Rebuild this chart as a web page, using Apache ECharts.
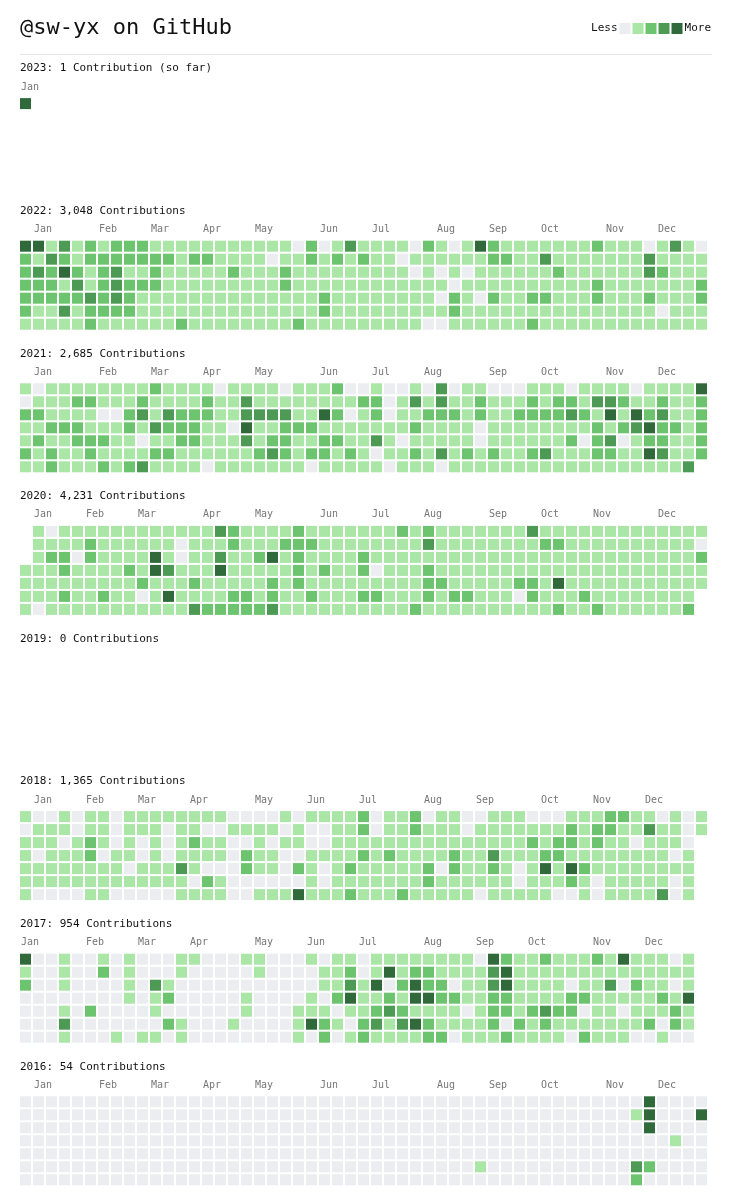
<!DOCTYPE html>
<html>
<head>
<meta charset="utf-8">
<script src="https://cdn.jsdelivr.net/npm/echarts@6/dist/echarts.min.js"></script>
<style>
  html, body { margin: 0; background: #fff; }
  #chart { width: 729px; height: 1200px; }
</style>
</head>
<body>
<div id="chart"></div>
<script>
// contribution levels per year, one string per weekday row ('.' = no cell)
const cells2023 = ['4', '', '', '', '', '', '']
const cells2022 = [
  '4413121222 1111111111 1020131 1110210142 1111111211 101310',
  '2132122222 2212211110 1121212 1101111112 2113111111 131111',
  '2324212311 2111112111 2111111 1110101011 1111211111 132111',
  '2221312322 2111111111 2111111 1111110111 1111111211 111112',
  '2222232321 1111111111 1112111 1111102102 1122111211 121112',
  '2113122221 1111111111 1112111 1111112111 1111111111 110111',
  '1111121111 1121111111 1211111 1111001111 1121111111 111111'
]
const cells2021 = [
  '1011111111 2111101111 0111200 1001030110 0011101111 011114',
  '0111221112 1111211311 1111112 2013131121 1121221332 112112',
  '2211110023 1322211333 3114201 2011222121 1222232141 423112',
  '1122211121 3222110411 2221111 1112111101 1111111212 342212',
  '1211222110 1122111312 2112211 3101111101 1111120230 122112',
  '2121121111 2211111123 2122121 0112131212 1123111221 143112',
  '1121112123 1111011111 1101111 1011101111 1111111111 11113.'
]
const cells2020 = [
  '.101111111 1111132111 1211111 1121211111 1131111111 111111',
  '.111121111 1101112111 2221111 1111311111 1112211111 111110',
  '.122021111 4101131124 1211112 1111111111 1111111111 111112',
  '1112111121 4311141111 1212112 0111211111 1111111111 111111',
  '1111111112 1112111112 1211111 1111221111 1221411111 111111',
  '1112112110 1411112212 1121112 2111212211 1021112111 11111.',
  '1011111111 1113222223 1111111 1112111111 1111211211 11112.'
]
const cells2018 = [
  '1001011011 1111110000 1011112 0112011001 1100011122 110101',
  '0111011011 1011001111 0100112 0112111011 1111121221 131101',
  '1110121010 1012110010 1100111 1111111111 1121221211 01110.',
  '1011120110 1011110211 0011112 1211112113 1112211111 11101.',
  '1111111101 1131000211 0210121 1111202112 1014142111 11111.',
  '1111111111 1110210000 0010111 1111211111 1011121011 11101.',
  '1000011000 0011110011 1411121 1121111101 1111001011 11301.'
]
const cells2017 = [
  '4001001010 0011000110 0010110 1111111104 2112111214 11101.',
  '1001002010 0010000010 0001120 1412211113 4111111111 11111.',
  '2001000010 3100000000 0001131 4024220113 4111101130 21101.',
  '0000000010 1200000100 0010241 1214422112 2111122111 11214.',
  '0001020000 1000000100 0111011 2321111012 2123220110 11121.',
  '0003000000 0210001000 0142102 3134211112 0212111111 12021.',
  '0001000101 1010000000 0102012 1111220111 2111102111 00100.'
]
const cells2016 = [
  '0000000000 0000000000 0000000 0000000000 0000000000 040000',
  '0000000000 0000000000 0000000 0000000000 0000000000 140004',
  '0000000000 0000000000 0000000 0000000000 0000000000 040000',
  '0000000000 0000000000 0000000 0000000000 0000000000 000100',
  '0000000000 0000000000 0000000 0000000000 0000000000 000000',
  '0000000000 0000000000 0000000 0000000010 0000000000 320000',
  '0000000000 0000000000 0000000 0000000000 0000000000 200000'
]

// week column where each month label starts
const months2023 = [0]
const months2022 = [1, 6, 10, 14, 18, 23, 27, 32, 36, 40, 45, 49]
const months2021 = [1, 6, 10, 14, 18, 23, 27, 31, 36, 40, 45, 49]
const months2020 = [1, 5, 9, 14, 18, 23, 27, 31, 36, 40, 44, 49]
const months2018 = [1, 5, 9, 13, 18, 22, 26, 31, 35, 40, 44, 48]
const months2017 = [0, 5, 9, 13, 18, 22, 26, 31, 35, 39, 44, 48]
const months2016 = [1, 6, 10, 14, 18, 23, 27, 32, 36, 40, 45, 49]

const monthNames = ['Jan', 'Feb', 'Mar', 'Apr', 'May', 'Jun', 'Jul', 'Aug', 'Sep', 'Oct', 'Nov', 'Dec']
const levelColors = ['#ebedf0', '#aae6a6', '#6cc46f', '#4d9a55', '#306a3b']

const yearTitles = [
  '2023: 1 Contribution (so far)',
  '2022: 3,048 Contributions',
  '2021: 2,685 Contributions',
  '2020: 4,231 Contributions',
  '2019: 0 Contributions',
  '2018: 1,365 Contributions',
  '2017: 954 Contributions',
  '2016: 54 Contributions'
]
const yearCells = [cells2023, cells2022, cells2021, cells2020, null, cells2018, cells2017, cells2016]
const yearMonths = [months2023, months2022, months2021, months2020, null, months2018, months2017, months2016]

const FONT = '"DejaVu Sans Mono", "Liberation Mono", monospace'
const WEEKS = 53
const CELL = 13

function toPoints(rows) {
  const pts = []
  rows.forEach((row, r) => {
    row.replace(/\s/g, '').split('').forEach((ch, c) => {
      if (ch !== '.') pts.push([c + 0.5, r + 0.5, Number(ch)])
    })
  })
  return pts
}

const titles = [{
  text: '@sw-yx on GitHub',
  left: 20,
  top: 15,
  padding: 0,
  textStyle: { fontFamily: FONT, fontSize: 22, lineHeight: 26, fontWeight: 'normal', color: '#111' }
}]
const grids = []
const xAxes = []
const yAxes = []
const series = []

yearTitles.forEach((txt, i) => {
  const top = 98.1 + 142.6 * i
  titles.push({
    text: txt,
    left: 20,
    top: top - 29.5 - 7,
    padding: 0,
    textStyle: { fontFamily: FONT, fontSize: 11, lineHeight: 14, fontWeight: 'normal', color: '#111' }
  })
  if (!yearCells[i]) return

  const labelAt = {}
  yearMonths[i].forEach((col, m) => { labelAt[col] = monthNames[m] })
  const g = grids.length
  grids.push({ left: 19, top: top - 1, width: WEEKS * CELL, height: 7 * CELL })
  xAxes.push({
    gridIndex: g,
    type: 'value',
    position: 'top',
    min: 0,
    max: WEEKS,
    interval: 1,
    axisLine: { show: false },
    axisTick: { show: false },
    splitLine: { show: false },
    axisLabel: {
      formatter: v => labelAt[v] || '',
      align: 'left',
      margin: 4,
      padding: [0, 0, 0, 2],
      fontFamily: FONT,
      fontSize: 10,
      lineHeight: 12,
      color: '#777'
    }
  })
  yAxes.push({ gridIndex: g, type: 'value', min: 0, max: 7, inverse: true, show: false })
  series.push({
    type: 'scatter',
    xAxisIndex: g,
    yAxisIndex: g,
    symbol: 'rect',
    symbolSize: 11,
    silent: true,
    itemStyle: { opacity: 1 },
    data: toPoints(yearCells[i])
  })
})

const chart = echarts.init(document.getElementById('chart'))
chart.setOption({
  animation: false,
  title: titles,
  grid: grids,
  xAxis: xAxes,
  yAxis: yAxes,
  visualMap: {
    type: 'piecewise',
    dimension: 2,
    orient: 'horizontal',
    right: 18,
    top: 23,
    padding: 0,
    itemWidth: 11,
    itemHeight: 11,
    itemGap: 2,
    itemSymbol: 'rect',
    selectedMode: false,
    hoverLink: false,
    text: ['More', 'Less'],
    textStyle: { fontFamily: FONT, fontSize: 11, color: '#111', padding: [0, 3, 0, 3] },
    pieces: levelColors.map((color, lv) => ({ value: lv, color: color }))
  },
  graphic: [{
    type: 'line',
    shape: { x1: 20, y1: 54.5, x2: 712, y2: 54.5 },
    style: { stroke: '#e5e5e5', lineWidth: 1 }
  }],
  series: series
})
</script>
</body>
</html>
